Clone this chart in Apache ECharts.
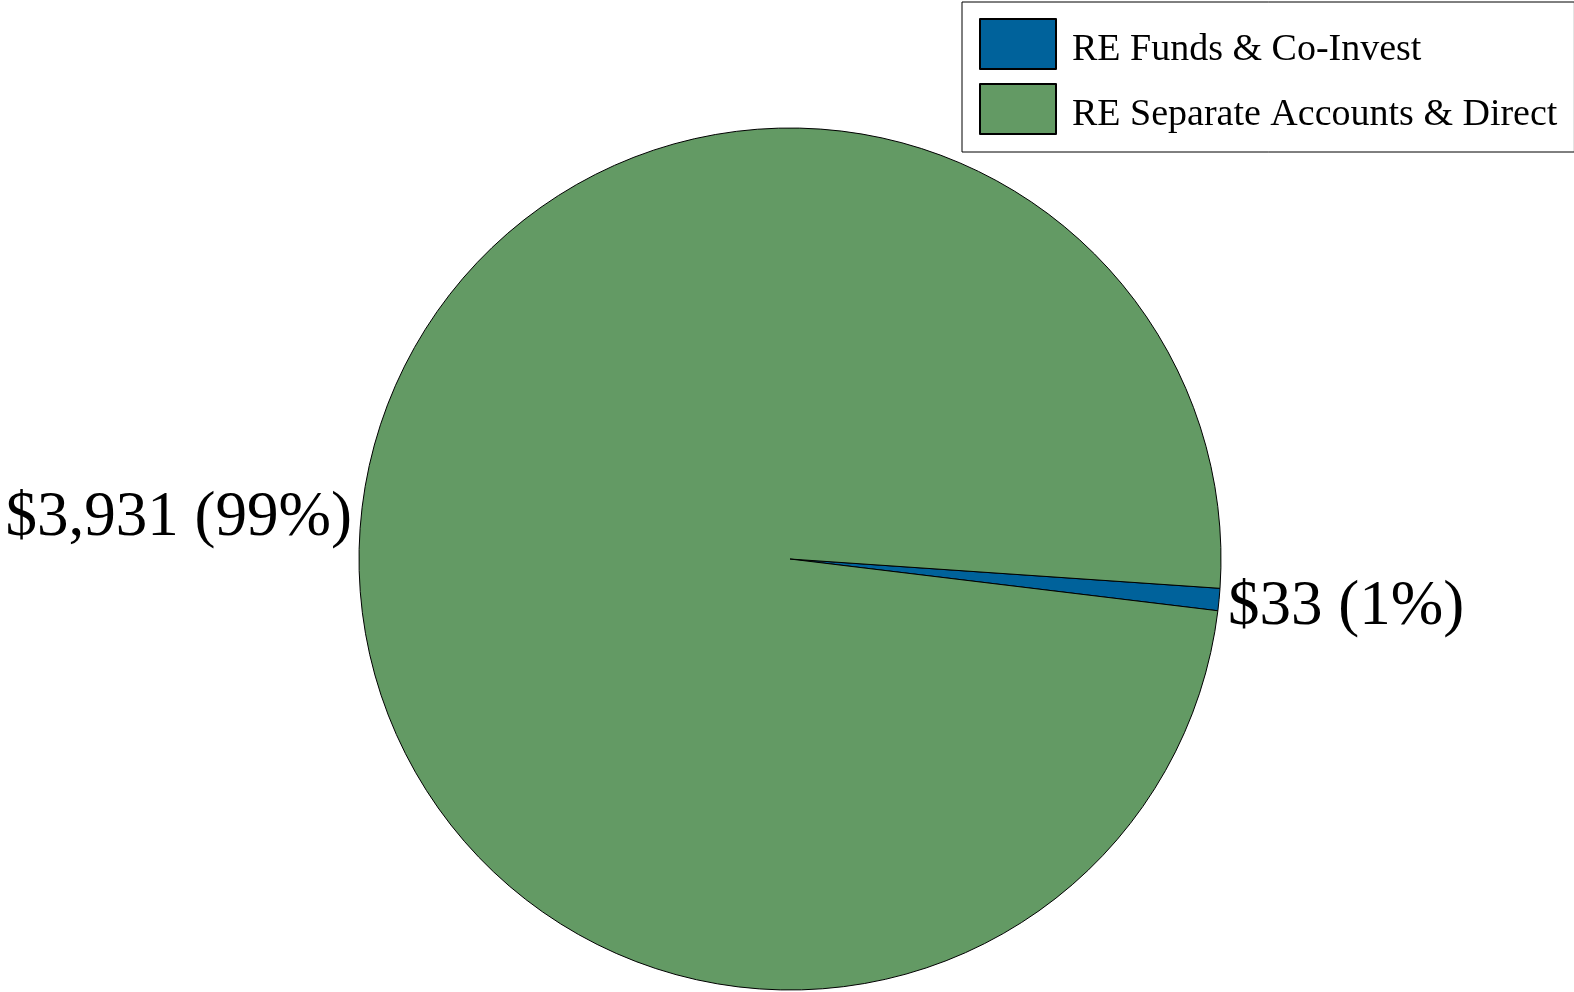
<!DOCTYPE html>
<html>
<head>
<meta charset="utf-8">
<title>RE Allocation</title>
<script src="https://cdn.jsdelivr.net/npm/echarts@6/dist/echarts.min.js"></script>
<style>
  html, body { margin: 0; padding: 0; background: #ffffff; }
  #chart { width: 1574px; height: 992px; }
</style>
</head>
<body>
<div id="chart"></div>
<script>
// Allocation categories and their market values ($ millions)
const categories = ['RE Funds & Co-Invest', 'RE Separate Accounts & Direct'];
const values = [33, 3931];
const colors = ['#00629b', '#639a64'];

const total = values.reduce((a, b) => a + b, 0);
const fmtMoney = v => '$' + v.toLocaleString('en-US');

// small per-slice nudges for the outside labels
const labelNudge = [{ dx: 4, dy: 8 }, { dx: -4, dy: 0 }];

const serif = 'Liberation Serif, Times New Roman, serif';

const chart = echarts.init(document.getElementById('chart'), null, { renderer: 'canvas' });

chart.setOption({
  backgroundColor: '#ffffff',
  animation: false,
  textStyle: { fontFamily: serif },
  legend: {
    orient: 'vertical',
    left: 962,
    top: 2,
    padding: [16, 17, 17, 17],
    itemWidth: 76,
    itemHeight: 50,
    itemGap: 13,
    borderColor: '#000000',
    borderWidth: 1,
    icon: 'rect',
    formatter: name => '{t|' + name + '}',
    textStyle: {
      fontFamily: serif,
      fontSize: 38,
      color: '#000000',
      rich: {
        t: {
          fontFamily: serif,
          fontSize: 38,
          lineHeight: 38,
          color: '#000000',
          padding: [12, 0, 0, 11]
        }
      }
    },
    data: categories
  },
  series: [{
    type: 'pie',
    center: [790, 559],
    radius: 431,
    startAngle: -3.9,
    clockwise: true,
    avoidLabelOverlap: false,
    itemStyle: { borderColor: '#000000', borderWidth: 1 },
    label: {
      show: true,
      position: 'outside',
      fontFamily: serif,
      fontSize: 63,
      color: '#000000',
      formatter: p => fmtMoney(p.value) + ' (' + Math.round(p.value / total * 100) + '%)'
    },
    labelLine: { show: false, length: 0, length2: 0 },
    labelLayout: p => labelNudge[p.dataIndex],
    emphasis: { disabled: true },
    data: categories.map((name, i) => ({
      name,
      value: values[i],
      itemStyle: { color: colors[i] }
    }))
  }]
});
</script>
</body>
</html>
